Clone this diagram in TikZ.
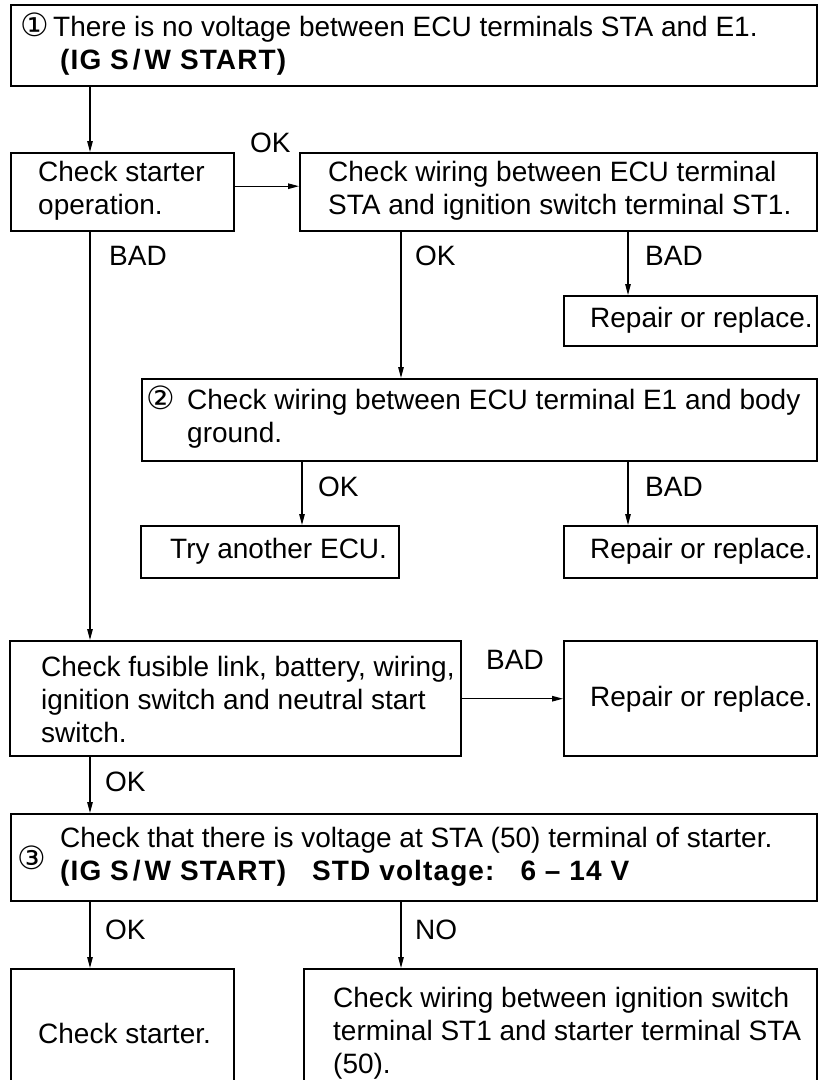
\documentclass[tikz,border=0pt]{standalone}
\usepackage{fontspec}
\setmainfont{Liberation Sans}
\newfontfamily\circfont{DejaVu Sans}
\usetikzlibrary{arrows.meta,calc}
\newcommand{\boldspaced}[1]{{\bfseries\addfontfeatures{LetterSpace=4}#1}}
\begin{document}
\begin{tikzpicture}[x=1pt,y=-1pt,
  box/.style={draw, line width=2.4pt, rectangle, inner sep=0pt, anchor=north west},
  txt/.style={align=left, inner sep=0pt, anchor=west, font=\fontsize{28}{33}\selectfont},
  lbl/.style={inner sep=0pt, anchor=west, font=\fontsize{28}{33}\selectfont},
  circ/.style={inner sep=0pt, anchor=west, font=\circfont\fontsize{32}{32}\selectfont},
  arr/.style={line width=1.2pt, -{Triangle[length=11pt,width=5.5pt]}}
]
\useasboundingbox (0,0) rectangle (823,1080);
\clip (0,0) rectangle (823,1080);

% column positions
\coordinate (c1) at (90,0);
\coordinate (c2) at (401,0);
\coordinate (c3) at (628,0);
\coordinate (c4) at (302,0);

% boxes
\node[box, minimum width=806pt, minimum height=81pt] (b1) at (10,4) {};
\node[box, minimum width=223pt, minimum height=78pt] (b2) at (10,152) {};
\node[box, minimum width=517pt, minimum height=78pt] (b3) at (299,152) {};
\node[box, minimum width=253pt, minimum height=50pt] (r1) at (563,295) {};
\node[box, minimum width=675pt, minimum height=82pt] (b4) at (141,378) {};
\node[box, minimum width=258pt, minimum height=52pt] (e1) at (140,525) {};
\node[box, minimum width=253pt, minimum height=52pt] (r2) at (563,525) {};
\node[box, minimum width=451pt, minimum height=115pt] (b5) at (9,640) {};
\node[box, minimum width=253pt, minimum height=115pt] (r3) at (563,640) {};
\node[box, minimum width=806pt, minimum height=87pt] (b6) at (10,813) {};
\node[box, minimum width=223pt, minimum height=150pt] (b7) at (10,968) {};
\node[box, minimum width=513pt, minimum height=150pt] (b8) at (303,968) {};

% texts
\node[txt] (t1) at (20,44.5) {\makebox[33pt][l]{\circfont\fontsize{32}{33}\selectfont ①}There is no voltage between ECU terminals STA and E1.\\\hspace*{40pt}\boldspaced{(IG S\kern4pt/\kern4pt W START)}};
\node[txt] (t2) at (38,191) {Check starter\\operation.};
\node[txt] (t3) at (328,191) {Check wiring between ECU terminal\\STA and ignition switch terminal ST1.};
\node[txt] (t4) at (590,320) {Repair or replace.};
\node[txt] (t5) at (146,417) {\makebox[41pt][l]{\circfont\fontsize{32}{33}\selectfont ②}Check wiring between ECU terminal E1 and body\\\hspace*{41pt}ground.};
\node[txt] (t6) at (170,551) {Try another ECU.};
\node[txt] (t7) at (590,551) {Repair or replace.};
\node[txt] (t8) at (41,699) {Check fusible link, battery, wiring,\\ignition switch and neutral start\\switch.};
\node[txt] (t9) at (590,699) {Repair or replace.};
\node[circ] (n3) at (17,858) {③};
\node[txt] (t10) at (60,856.5) {Check that there is voltage at STA (50) terminal of starter.\\\boldspaced{(IG S\kern4pt/\kern4pt W START)\hspace{26pt}STD voltage:\hspace{26pt}6 -- 14 V}};
\node[txt] (t11) at (38,1033) {Check starter.};
\node[txt] (t12) at (333,1033) {Check wiring between ignition switch\\terminal ST1 and starter terminal STA\\(50).};

% labels
\node[lbl] (l1) at (250,143) {OK};
\node[lbl] (l2) at (109,256) {BAD};
\node[lbl] (l3) at (415,256) {OK};
\node[lbl] (l4) at (645,256) {BAD};
\node[lbl] (l5) at (318,487) {OK};
\node[lbl] (l6) at (645,487) {BAD};
\node[lbl] (l7) at (486,660) {BAD};
\node[lbl] (l8) at (105,782) {OK};
\node[lbl] (l9) at (105,930) {OK};
\node[lbl] (l10) at (415,930) {NO};

% connectors
\draw[arr] (b1.south -| c1) -- (b2.north -| c1);
\draw[arr] ([yshift=6pt]b2.east) -- ([yshift=6pt]b3.west);
\draw[arr] (b2.south -| c1) -- (b5.north -| c1);
\draw[arr] (b3.south -| c2) -- (b4.north -| c2);
\draw[arr] (b3.south -| c3) -- (r1.north -| c3);
\draw[arr] (b4.south -| c4) -- (e1.north -| c4);
\draw[arr] (b4.south -| c3) -- (r2.north -| c3);
\draw[arr] (b5.east) -- (r3.west);
\draw[arr] (b5.south -| c1) -- (b6.north -| c1);
\draw[arr] (b6.south -| c1) -- (b7.north -| c1);
\draw[arr] (b6.south -| c2) -- (b8.north -| c2);
\end{tikzpicture}
\end{document}
